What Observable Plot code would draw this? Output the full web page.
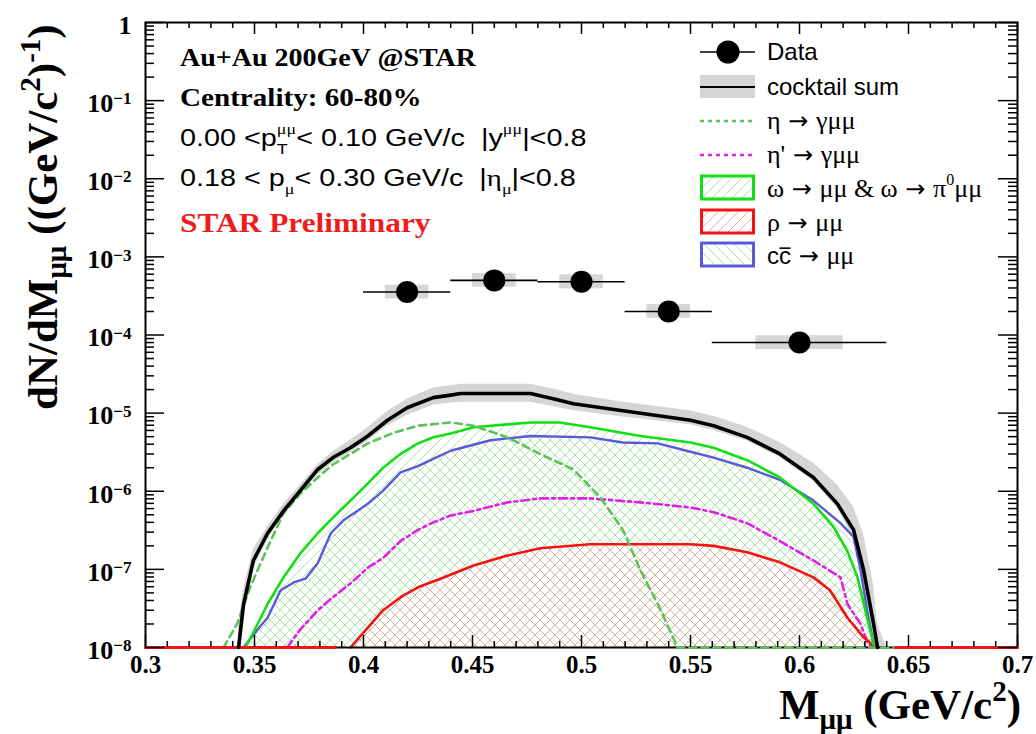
<!DOCTYPE html>
<html><head><meta charset="utf-8">
<script src="https://cdn.jsdelivr.net/npm/d3@7"></script>
<script src="https://cdn.jsdelivr.net/npm/@observablehq/plot@0.6"></script>
<style>
html,body{margin:0;padding:0;background:#fff;}
#chart{width:1036px;height:734px;overflow:hidden;}
svg text{white-space:pre;}
</style></head><body><div id="chart"></div>
<script>
// ---------- data ----------
// Data points
const dataM   = [0.42, 0.46, 0.50, 0.54, 0.60];
const dataV   = [3.55e-4, 5.0e-4, 4.8e-4, 2.0e-4, 8.0e-5];
const dataXLo = [0.40, 0.44, 0.48, 0.52, 0.56];
const dataXHi = [0.44, 0.48, 0.52, 0.56, 0.64];
const sysXLo  = [0.41, 0.45, 0.49, 0.53, 0.58];
const sysXHi  = [0.43, 0.47, 0.51, 0.55, 0.62];
const sysLo   = [2.9e-4, 4.1e-4, 3.9e-4, 1.63e-4, 6.5e-5];
const sysHi   = [4.35e-4, 6.1e-4, 5.9e-4, 2.45e-4, 9.8e-5];

// cocktail sum
const sumM = [0.3427,0.345,0.3495,0.356,0.3633,0.371,0.379,0.386,0.394,0.402,0.411,0.420,0.432,0.440,0.4445,0.4575,0.4766,0.488,0.4963,0.519,0.550,0.5606,0.576,0.591,0.6064,0.6174,0.6248,0.6294,0.634,0.6358];
const sumV = [1e-8,3.6e-8,1.3e-7,2.9e-7,5.6e-7,1.02e-6,1.9e-6,2.7e-6,3.6e-6,5.1e-6,8.1e-6,1.17e-5,1.58e-5,1.7e-5,1.78e-5,1.78e-5,1.78e-5,1.51e-5,1.32e-5,1.07e-5,8.1e-6,6.9e-6,4.9e-6,3.0e-6,1.5e-6,6.9e-7,3.2e-7,9.8e-8,2.0e-8,1e-8];
// cocktail uncertainty band
const bandM  = [0.3427,0.345,0.3495,0.356,0.3633,0.371,0.379,0.386,0.394,0.402,0.411,0.420,0.432,0.440,0.4445,0.4575,0.4766,0.488,0.4963,0.519,0.550,0.5606,0.576,0.591,0.6064,0.6174,0.6248,0.6294,0.634,0.6358,0.640];
const bandHi = [2.0e-8,5.6e-8,1.8e-7,3.5e-7,6.8e-7,1.2e-6,2.2e-6,3.2e-6,4.5e-6,6.5e-6,1.05e-5,1.51e-5,2.09e-5,2.24e-5,2.34e-5,2.34e-5,2.34e-5,2.0e-5,1.74e-5,1.38e-5,1.07e-5,9.1e-6,6.6e-6,4.2e-6,2.3e-6,1.2e-6,6.3e-7,2.8e-7,6.3e-8,2.0e-8,1e-8];
const bandLo = [1e-8,2.5e-8,1.0e-7,2.4e-7,4.8e-7,8.9e-7,1.6e-6,2.3e-6,3.1e-6,4.4e-6,6.8e-6,9.3e-6,1.26e-5,1.35e-5,1.38e-5,1.38e-5,1.38e-5,1.2e-5,1.07e-5,8.9e-6,7.1e-6,6.0e-6,4.4e-6,2.7e-6,1.35e-6,6.0e-7,2.5e-7,6.3e-8,1e-8,1e-8,1e-8];

// omega -> mumu & omega -> pi0 mumu
const omegaM = [0.3459,0.3514,0.356,0.3633,0.371,0.379,0.386,0.394,0.402,0.409,0.417,0.425,0.432,0.440,0.4505,0.4766,0.490,0.504,0.527,0.550,0.5606,0.576,0.591,0.6064,0.6156,0.622,0.6266,0.631,0.634,0.6355];
const omegaV = [1e-8,2.0e-8,3.6e-8,7.9e-8,1.6e-7,2.9e-7,4.6e-7,7.6e-7,1.26e-6,2.0e-6,3.0e-6,4.1e-6,4.9e-6,5.5e-6,6.6e-6,7.6e-6,7.6e-6,6.6e-6,5.1e-6,4.2e-6,3.6e-6,2.5e-6,1.5e-6,6.9e-7,3.5e-7,1.7e-7,7.9e-8,2.4e-8,1.1e-8,1e-8];

// c cbar -> mumu
const ccM = [0.345,0.3514,0.356,0.362,0.368,0.3734,0.379,0.385,0.391,0.402,0.409,0.417,0.425,0.432,0.440,0.4583,0.4766,0.504,0.519,0.535,0.550,0.5606,0.576,0.591,0.6064,0.6188,0.6248,0.628,0.631,0.634,0.6355];
const ccV = [1e-8,1.7e-8,2.4e-8,5.4e-8,6.8e-8,7.6e-8,1.2e-7,2.9e-7,4.3e-7,6.9e-7,1.02e-6,1.74e-6,2.1e-6,2.6e-6,3.3e-6,4.5e-6,5.1e-6,4.9e-6,4.2e-6,4.1e-6,3.2e-6,2.7e-6,2.0e-6,1.4e-6,7.6e-7,3.9e-7,2.6e-7,9.8e-8,3.0e-8,1.1e-8,1e-8];

// eta -> gamma mumu
const etaM = [0.3358,0.342,0.348,0.356,0.3633,0.371,0.379,0.386,0.394,0.402,0.4138,0.425,0.44,0.4505,0.466,0.481,0.4963,0.5087,0.519,0.527,0.535,0.542,0.544,0.65];
const etaV = [1e-8,2.0e-8,5.9e-8,1.9e-7,5.2e-7,9.3e-7,1.5e-6,2.2e-6,3.0e-6,4.1e-6,5.6e-6,6.9e-6,7.6e-6,6.9e-6,4.9e-6,3.0e-6,1.9e-6,8.3e-7,3.2e-7,9.8e-8,3.6e-8,1.35e-8,1e-8,1e-8];

// eta' -> gamma mumu
const etapM = [0.365,0.371,0.379,0.386,0.394,0.402,0.409,0.417,0.425,0.432,0.44,0.4505,0.466,0.481,0.504,0.527,0.55,0.5606,0.576,0.591,0.6064,0.6188,0.622,0.628,0.631,0.6335];
const etapV = [1e-8,1.7e-8,3.0e-8,4.4e-8,6.6e-8,1.05e-7,1.4e-7,2.3e-7,3.2e-7,4.0e-7,4.9e-7,5.6e-7,7.2e-7,8.1e-7,8.1e-7,7.2e-7,6.2e-7,5.4e-7,3.9e-7,2.3e-7,1.3e-7,7.9e-8,3.6e-8,2.0e-8,1.2e-8,1e-8];

// rho -> mumu
const rhoM = [0.3,0.387,0.394,0.402,0.409,0.417,0.425,0.4353,0.4505,0.466,0.481,0.504,0.527,0.55,0.5606,0.576,0.591,0.6064,0.614,0.622,0.6294,0.6349,0.644,0.7];
const rhoV = [1e-8,1e-8,1e-8,1.8e-8,3.0e-8,4.4e-8,5.9e-8,7.6e-8,1.12e-7,1.5e-7,1.86e-7,2.1e-7,2.1e-7,2.1e-7,2.0e-7,1.66e-7,1.23e-7,7.9e-8,5.4e-8,2.4e-8,1.35e-8,1e-8,1e-8,1e-8];

// axis ticks
const xMajor = [0.3,0.35,0.4,0.45,0.5,0.55,0.6,0.65,0.7];
const xTickLabels = ["0.3","0.35","0.4","0.45","0.5","0.55","0.6","0.65","0.7"];
const yMajor = [1e-8,1e-7,1e-6,1e-5,1e-4,1e-3,1e-2,1e-1,1];
const yTickLabels = ["10^-8","10^-7","10^-6","10^-5","10^-4","10^-3","10^-2","10^-1","1"];
const xMinor = d3.range(31,70).filter(k => k % 5 !== 0).map(k => k/100);
const yMinor = [];
for (let e = -8; e < 0; e++) for (let k = 2; k <= 9; k++) yMinor.push(k * Math.pow(10, e));

// ---------- colors ----------
const C = {
  sum: "#000000", band: "#d5d5d5", omega: "#14de14", cc: "#5a5ad6",
  eta: "#5cc25c", etap: "#e51ee5", rho: "#f01414", star: "#f01c1c"
};

// ---------- tables ----------
const rows = (ms, vs) => ms.map((m, i) => ({m, v: vs[i]}));
const sum = rows(sumM, sumV), omega = rows(omegaM, omegaV), cc = rows(ccM, ccV);
const eta = rows(etaM, etaV), etap = rows(etapM, etapV), rho = rows(rhoM, rhoV);
const band = bandM.map((m, i) => ({m, lo: bandLo[i], hi: bandHi[i]}));
const pts = dataM.map((m, i) => ({m, v: dataV[i], xlo: dataXLo[i], xhi: dataXHi[i], sx1: sysXLo[i], sx2: sysXHi[i], slo: sysLo[i], shi: sysHi[i]}));
// rho: the part drawn at the lower edge (outside the kinematic range) is a separate piece
const rhoLeft = rho.filter(d => d.m <= 0.387), rhoMain = rho.filter(d => d.m >= 0.394 && d.m <= 0.6349), rhoRight = rho.filter(d => d.m >= 0.644);

// ---------- layout ----------
const W = 1036, H = 734, ML = 145, MR = 19, MT = 22, MB = 87;
const FW = W - ML - MR, FH = H - MT - MB;
const serif = "'Liberation Serif','Times New Roman',serif";
const sans = "'Liberation Sans',Arial,Helvetica,sans-serif";

const svgEl = Plot.plot({
  width: W, height: H, marginLeft: ML, marginRight: MR, marginTop: MT, marginBottom: MB,
  style: {fontFamily: serif, fontWeight: "bold", fontSize: "24px", background: "white", color: "black", overflow: "visible"},
  x: {domain: [0.3, 0.7]},
  y: {type: "log", domain: [1e-8, 1]},
  marks: [
    Plot.areaY(band, {x: "m", y1: "lo", y2: "hi", fill: C.band}),
    Plot.areaY(cc, {x: "m", y1: 1e-8, y2: "v", fill: "url(#hCC)"}),
    Plot.areaY(omega, {x: "m", y1: 1e-8, y2: "v", fill: "url(#hOmega)"}),
    Plot.areaY(rhoMain, {x: "m", y1: 1e-8, y2: "v", fill: "url(#hRho)"}),
    Plot.line(etap, {x: "m", y: "v", stroke: C.etap, strokeWidth: 2.6, strokeDasharray: "8,4,3,4"}),
    Plot.line(rhoMain, {x: "m", y: "v", stroke: C.rho, strokeWidth: 2.6}),
    Plot.line(cc, {x: "m", y: "v", stroke: C.cc, strokeWidth: 2.4}),
    Plot.line(omega, {x: "m", y: "v", stroke: C.omega, strokeWidth: 2.6}),
    // data points
    Plot.rect(pts, {x1: "sx1", x2: "sx2", y1: "slo", y2: "shi", fill: "#d6d6d6"}),
    Plot.ruleY(pts, {x1: "xlo", x2: "xhi", y: "v", stroke: "black", strokeWidth: 1.6}),
    Plot.dot(pts, {x: "m", y: "v", r: 11, fill: "black", stroke: "none"}),
    // frame
    Plot.frame({stroke: "black", strokeWidth: 2}),
    // curves that run along the lower edge are drawn over the frame
    Plot.line(eta, {x: "m", y: "v", stroke: C.eta, strokeWidth: 2.6, strokeDasharray: "7,5"}),
    Plot.line(rhoLeft, {x: "m", y: "v", stroke: C.rho, strokeWidth: 3}),
    Plot.line(rhoRight, {x: "m", y: "v", stroke: C.rho, strokeWidth: 3}),
    Plot.line(sum, {x: "m", y: "v", stroke: C.sum, strokeWidth: 3.6}),
    // ticks (ROOT style, inward on all four sides)
    Plot.ruleX(xMajor, {stroke: "black", strokeWidth: 1.5, insetTop: FH - 12}),
    Plot.ruleX(xMinor, {stroke: "black", strokeWidth: 1.5, insetTop: FH - 6}),
    Plot.ruleX(xMajor, {stroke: "black", strokeWidth: 1.5, insetBottom: FH - 12}),
    Plot.ruleX(xMinor, {stroke: "black", strokeWidth: 1.5, insetBottom: FH - 6}),
    Plot.ruleY(yMajor, {stroke: "black", strokeWidth: 1.5, insetRight: FW - 19}),
    Plot.ruleY(yMinor, {stroke: "black", strokeWidth: 1.5, insetRight: FW - 9}),
    Plot.ruleY(yMajor, {stroke: "black", strokeWidth: 1.5, insetLeft: FW - 19}),
    Plot.ruleY(yMinor, {stroke: "black", strokeWidth: 1.5, insetLeft: FW - 9}),
    Plot.axisX({ticks: xMajor, tickSize: 0, tickPadding: 8, label: null,
      tickFormat: d => xTickLabels[xMajor.indexOf(d)], fontSize: 25, fontWeight: "bold", fontFamily: serif}),
    Plot.axisY({ticks: yMajor, tickSize: 0, tickPadding: 14, label: null, dy: 3,
      tickFormat: d => yTickLabels[yMajor.indexOf(d)], fontSize: 26, fontWeight: "bold", fontFamily: serif})
  ]
});
document.getElementById("chart").appendChild(svgEl);
const svg = d3.select(svgEl);

// hatch patterns
const defs = svg.insert("defs", ":first-child");
function hatch(id, color, dirs, bg, sw) {
  const p = defs.append("pattern").attr("id", id).attr("patternUnits", "userSpaceOnUse")
    .attr("width", 10).attr("height", 10);
  if (bg) p.append("rect").attr("width", 10).attr("height", 10).attr("fill", bg);
  if (dirs.includes("/")) p.append("path").attr("d", "M-1,11L11,-1M-3,3L3,-3M7,13L13,7").attr("stroke", color).attr("stroke-width", sw || 1).attr("fill", "none");
  if (dirs.includes("\\")) p.append("path").attr("d", "M-1,-1L11,11M-3,7L3,13M7,-3L13,3").attr("stroke", color).attr("stroke-width", sw || 1).attr("fill", "none");
}
hatch("hOmega", "#a6e4a6", "/");
hatch("hCC", "#a6e4a6", "\\");
hatch("hRho", "#ccb39b", "/\\", "#ffffff");
hatch("hRhoLeg", "#f4a6a6", "/");

// y tick labels: turn "10^-5" into 10 with a superscript
svg.selectAll("text").each(function () {
  const t = d3.select(this);
  const s = t.text();
  const m = /^10\^(-?\d+)$/.exec(s);
  if (m && this.childElementCount === 0) {
    t.text("10");
    t.append("tspan").attr("dy", "-0.45em").attr("font-size", 17).text(m[1].replace("-", "\u2212"));
  }
});

// rich text helper (sub/superscripts as separate text pieces); sx = horizontal stretch
function rich(parent, x, y, parts, base, sx) {
  const g = parent.append("g").attr("text-anchor", "start")
    .attr("transform", `translate(${x},${y}) scale(${sx || 1},1)`);
  let cx = 0, prevStart = 0;
  parts.forEach(p => {
    const size = p.size || base.size;
    const t = g.append("text")
      .attr("text-anchor", "start")
      .attr("y", p.dy || 0)
      .attr("font-family", p.font || base.font)
      .attr("font-size", size)
      .attr("font-weight", p.weight || base.weight || "normal")
      .attr("fill", p.fill || base.fill || "black")
      .style("white-space", "pre")
      .text(p.t);
    const px = p.stack ? prevStart : cx;
    t.attr("x", px);
    const w = t.node().getComputedTextLength();
    if (p.over) g.append("line").attr("x1", px + 0.5).attr("x2", px + w - 0.5)
      .attr("y1", -0.66 * size).attr("y2", -0.66 * size).attr("stroke", base.fill || "black").attr("stroke-width", 1.6);
    if (p.stack) cx = Math.max(cx, px + w);
    else { prevStart = px; cx = px + w; }
  });
  g.width = cx * (sx || 1);
  return g;
}

// axis titles
const yt = rich(svg, 0, 0, [
  {t: "dN/dM"}, {t: "\u03bc\u03bc", size: 29, dy: 9},
  {t: " ((GeV/c"}, {t: "2", size: 29, dy: -17}, {t: ")"}, {t: "-1", size: 29, dy: -17}, {t: ")"}
], {font: serif, size: 43, weight: "bold"});
yt.attr("transform", "translate(57,410) rotate(-90)");

const xt = rich(svg, 0, 0, [
  {t: "M"}, {t: "\u03bc\u03bc", size: 29, dy: 10},
  {t: " (GeV/c"}, {t: "2", size: 29, dy: -18}, {t: ")"}
], {font: serif, size: 43, weight: "bold"});
xt.attr("transform", `translate(${1021 - xt.width},719)`);

// annotations
rich(svg, 180, 66, [{t: "Au+Au 200GeV @STAR"}], {font: serif, size: 25, weight: "bold"}, 1.12);
rich(svg, 180, 106, [{t: "Centrality: 60-80%"}], {font: serif, size: 26, weight: "bold"}, 1.12);
rich(svg, 180, 146, [
  {t: "0.00 <p"}, {t: "\u03bc\u03bc", size: 15, dy: -12, font: serif}, {t: "T", size: 15, dy: 8, stack: true},
  {t: "< 0.10 GeV/c  |y"}, {t: "\u03bc\u03bc", size: 15, dy: -12, font: serif}, {t: "|<0.8"}
], {font: sans, size: 24}, 1.2);
rich(svg, 180, 186, [
  {t: "0.18 < p"}, {t: "\u03bc", size: 15, dy: 8, font: serif},
  {t: "< 0.30 GeV/c  |"}, {t: "\u03b7", font: serif}, {t: "\u03bc", size: 15, dy: 8, font: serif}, {t: "|<0.8"}
], {font: sans, size: 24}, 1.2);
rich(svg, 180, 232, [{t: "STAR Preliminary"}], {font: serif, size: 28, weight: "bold", fill: C.star}, 1.12);

// legend
const lg = svg.append("g");
const lx0 = 700, lx1 = 755, tx = 767;
const arrow = {t: " \u2192 ", font: "'DejaVu Sans',sans-serif", size: 24};
const gl = {font: serif, size: 26};
lg.append("line").attr("x1", lx0).attr("x2", lx1).attr("y1", 52).attr("y2", 52).attr("stroke", "black").attr("stroke-width", 1.6);
lg.append("circle").attr("cx", 728).attr("cy", 52).attr("r", 11.5).attr("fill", "black");
rich(lg, tx, 60, [{t: "Data"}], {font: sans, size: 24});

lg.append("rect").attr("x", lx0).attr("y", 75).attr("width", lx1 - lx0).attr("height", 23).attr("fill", C.band);
lg.append("line").attr("x1", lx0).attr("x2", lx1).attr("y1", 87).attr("y2", 87).attr("stroke", "black").attr("stroke-width", 2);
rich(lg, tx, 95, [{t: "cocktail sum"}], {font: sans, size: 24});

lg.append("line").attr("x1", lx0).attr("x2", lx1).attr("y1", 121).attr("y2", 121).attr("stroke", C.eta).attr("stroke-width", 2.4).attr("stroke-dasharray", "4,4");
rich(lg, tx, 129, [{t: "\u03b7"}, arrow, {t: "\u03b3\u03bc\u03bc"}], gl);

lg.append("line").attr("x1", lx0).attr("x2", lx1).attr("y1", 155).attr("y2", 155).attr("stroke", C.etap).attr("stroke-width", 2.4).attr("stroke-dasharray", "4,4");
rich(lg, tx, 163, [{t: "\u03b7'"}, arrow, {t: "\u03b3\u03bc\u03bc"}], gl);

lg.append("rect").attr("x", lx0 + 1.5).attr("y", 176).attr("width", lx1 - lx0 - 3).attr("height", 23).attr("fill", "url(#hOmega)").attr("stroke", C.omega).attr("stroke-width", 3);
rich(lg, tx, 197, [{t: "\u03c9"}, arrow, {t: "\u03bc\u03bc & \u03c9"}, arrow, {t: "\u03c0"}, {t: "0", size: 16, dy: -12}, {t: "\u03bc\u03bc"}], gl);

lg.append("rect").attr("x", lx0 + 1.5).attr("y", 210).attr("width", lx1 - lx0 - 3).attr("height", 23).attr("fill", "url(#hRhoLeg)").attr("stroke", C.rho).attr("stroke-width", 3);
rich(lg, tx, 231, [{t: "\u03c1"}, arrow, {t: "\u03bc\u03bc"}], gl);

lg.append("rect").attr("x", lx0 + 1.5).attr("y", 243).attr("width", lx1 - lx0 - 3).attr("height", 23).attr("fill", "url(#hCC)").attr("stroke", C.cc).attr("stroke-width", 3);
rich(lg, tx, 264, [{t: "c", font: sans, size: 24}, {t: "c", font: sans, size: 24, over: true}, arrow, {t: "\u03bc\u03bc"}], gl);
</script></body></html>
